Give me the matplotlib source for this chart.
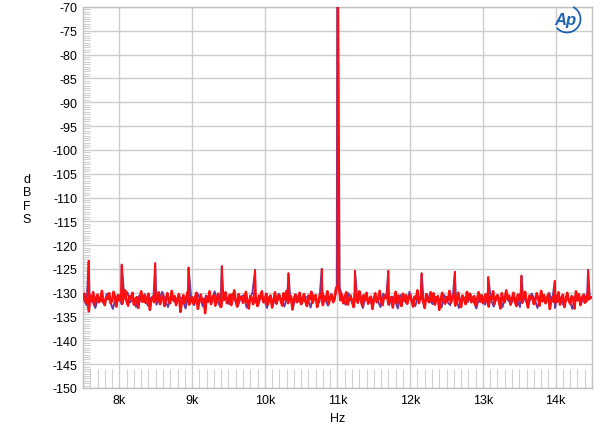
import numpy as np
import matplotlib
matplotlib.use("Agg")
import matplotlib.pyplot as plt
from matplotlib.ticker import MultipleLocator, FuncFormatter
from matplotlib.patches import Arc

plt.rcParams['font.family'] = ['Liberation Sans', 'DejaVu Sans']

# noise floor, red trace, 20 Hz bins from 7500 to 14500 Hz
red_freq = np.arange(7500, 14501, 20)
red_level = [
    -131.0, -130.2, -132.1, -131.4, -133.9, -130.6, -131.8, -129.9, -132.4, -131.1, -130.4, -132.0, -131.5, -129.6, -131.9, -132.6, -130.8, -131.3, -130.1, -132.2, -131.7, -129.8, -131.0, -132.9, -130.5,
    -131.6, -130.3, -132.3, -131.0, -129.5, -131.8, -132.7, -130.7, -131.2, -130.0, -132.5, -131.4, -130.9, -133.2, -131.1, -129.7, -131.9, -130.6, -132.1, -131.3, -130.2, -133.6, -131.5, -130.8, -132.0,
    -130.4, -131.7, -129.9, -132.4, -131.0, -130.6, -132.8, -131.3, -130.1, -131.9, -132.2, -129.6, -131.5, -130.7, -132.6, -131.2, -130.3, -134.0, -131.8, -130.5, -132.1, -131.0, -129.8, -132.5, -131.4,
    -130.9, -132.3, -131.1, -130.0, -133.4, -131.6, -130.4, -132.0, -131.3, -134.3, -130.8, -131.9, -129.7, -132.4, -131.0, -130.5, -132.7, -131.4, -130.2, -131.8, -133.0, -130.6, -131.5, -129.9, -132.2,
    -131.2, -130.4, -132.6, -131.0, -129.5, -131.7, -132.9, -130.3, -131.4, -130.8, -132.1, -131.6, -129.8, -131.9, -133.3, -130.7, -131.1, -132.4, -130.0, -131.5, -132.8, -130.6, -131.3, -129.7, -132.0,
    -131.4, -130.2, -132.5, -131.0, -130.6, -133.1, -131.7, -129.9, -132.3, -131.2, -130.5, -131.8, -132.7, -130.1, -131.5, -129.6, -132.2, -131.0, -130.7, -133.5, -131.3, -130.4, -132.0, -131.6, -130.0,
    -132.4, -131.1, -130.3, -131.9, -132.8, -130.6, -131.4, -129.8, -132.1, -131.0, -130.5, -133.0, -131.7, -130.2, -131.2, -132.6, -130.8, -131.5, -129.7, -132.3, -131.0, -130.4, -132.0, -131.3, -129.0,
    -128.6, -128.8, -131.6, -130.4, -132.2, -131.0, -129.9, -132.5, -131.3, -130.6, -131.8, -133.0, -130.2, -131.4, -132.1, -129.7, -131.0, -132.7, -130.5, -131.6, -130.0, -132.3, -131.2, -130.8, -133.4,
    -131.5, -130.1, -132.0, -131.3, -129.6, -131.9, -132.6, -130.7, -131.1, -130.3, -132.4, -131.6, -130.9, -133.1, -131.2, -129.8, -132.1, -130.6, -131.4, -132.8, -130.2, -131.7, -130.5, -132.3, -131.0,
    -130.4, -131.8, -132.9, -130.8, -131.3, -129.5, -132.2, -131.0, -130.6, -131.9, -133.2, -130.3, -131.5, -132.0, -129.9, -131.7, -130.1, -132.5, -131.2, -130.7, -133.6, -131.4, -130.0, -131.8, -132.3,
    -130.9, -131.6, -129.6, -132.1, -131.0, -130.4, -132.7, -131.3, -130.0, -131.8, -133.0, -130.6, -131.2, -132.4, -129.8, -131.5, -130.2, -132.0, -131.1, -130.7, -132.6, -131.4, -129.9, -131.9, -130.5,
    -132.2, -131.0, -130.3, -131.7, -132.9, -130.8, -131.4, -129.7, -132.3, -131.1, -130.5, -131.8, -133.3, -130.1, -131.6, -132.0, -129.5, -131.3, -130.6, -132.5, -131.2, -130.0, -131.9, -132.8, -130.4,
    -131.5, -130.2, -132.1, -131.0, -129.8, -131.7, -133.1, -130.6, -131.3, -130.9, -132.4, -131.6, -130.1, -131.2, -132.7, -129.6, -131.8, -130.5, -132.2, -131.0, -130.3, -133.4, -131.5, -130.8, -132.0,
    -130.6, -131.9, -129.9, -132.5, -131.2, -130.4, -133.0, -131.4, -130.0, -131.7, -132.3, -130.7, -131.1, -133.3, -129.7, -131.6, -130.3, -132.6, -131.0, -130.5, -132.1, -131.8, -130.2, -131.4, -130.9,
    -131.0,
]

# purple trace (mostly hidden under red), 40 Hz bins
blue_freq = np.arange(7510, 14500, 40)
blue_level = [
    -131.3, -132.6, -130.5, -131.8, -133.2, -130.9, -131.5, -132.3, -130.2, -131.7, -133.4, -131.0, -130.6, -132.4, -131.2, -129.9, -132.0, -131.4, -133.0, -130.7, -131.9, -130.3, -132.7, -131.1, -130.8,
    -132.5, -131.3, -129.8, -131.6, -133.0, -130.5, -131.8, -132.2, -130.9, -131.4, -133.3, -130.4, -131.7, -132.6, -130.1, -131.2, -132.9, -130.6, -131.5, -132.0, -129.7, -131.8, -133.0, -130.8, -131.1,
    -132.4, -130.3, -131.6, -132.8, -131.0, -130.5, -133.1, -131.4, -130.0, -131.9, -132.5, -130.7, -131.3, -133.2, -130.9, -131.7, -132.1, -130.2, -131.5, -132.9, -130.6, -131.2, -133.0, -130.4, -131.8,
    -132.3, -130.8, -131.1, -133.1, -130.5, -131.6, -132.0, -129.9, -131.4, -132.7, -130.3, -131.8, -129.2, -129.0, -131.0, -132.5, -130.1, -131.7, -132.9, -130.9, -131.3, -133.2, -130.4, -131.9, -132.2,
    -130.7, -131.5, -133.0, -130.2, -131.2, -132.6, -130.8, -131.6, -133.3, -130.5, -131.1, -132.3, -129.8, -131.8, -132.8, -130.6, -131.4, -133.1, -130.3, -131.7, -132.4, -130.9, -131.2, -133.1, -130.5,
    -131.9, -132.6, -130.1, -131.3, -133.2, -130.7, -131.6, -132.0, -130.4, -131.8, -133.3, -130.8, -131.1, -132.5, -129.9, -131.5, -132.9, -130.6, -131.2, -133.0, -130.3, -131.7, -132.2, -130.9, -131.4,
    -133.0, -130.5, -131.8, -132.4, -130.2, -131.3, -133.2, -130.7, -131.6, -132.1, -130.0, -131.9, -133.2, -130.4, -131.2, -132.7, -130.8, -131.5, -133.4, -130.6, -131.1, -132.3, -130.3, -131.7, -131.0,
]

# 11 kHz test tone (runs off the top) and spurious tones
spur_freq = [7578, 8032, 8493, 8952, 9409, 9867, 10326, 10783, 11000,
             11240, 11699, 12157, 12614, 13073, 13530, 13988, 14446]
spur_level = [-123.3, -124.1, -123.8, -124.7, -124.4, -125.2, -125.9, -125.0, -40.0,
              -125.4, -125.4, -125.9, -125.6, -126.7, -126.4, -127.5, -125.2]


def merge(f, v):
    f = np.concatenate([f, spur_freq])
    v = np.concatenate([v, spur_level])
    order = np.argsort(f, kind='stable')
    return f[order], v[order]


fig = plt.figure(figsize=(6.0, 4.31), dpi=100)
ax = fig.add_axes([83 / 600, 1 - 389 / 431, 509 / 600, 381 / 431])

bf, bv = merge(blue_freq, blue_level)
rf, rv = merge(red_freq, red_level)
ax.plot(bf, bv, color='#6a3aa0', lw=1.4, zorder=3)
# thin line carries the spikes, a thicker pass fills out the noise band
ax.plot(rf, rv, color='#ff0f0f', lw=1.2, zorder=4)
ax.plot(red_freq, red_level, color='#ff0f0f', lw=1.8, zorder=4)

ax.set_xlim(7500, 14500)
ax.set_ylim(-150, -70)
ax.xaxis.set_major_locator(MultipleLocator(1000))
ax.xaxis.set_minor_locator(MultipleLocator(100))
ax.yaxis.set_major_locator(MultipleLocator(5))
ax.yaxis.set_minor_locator(MultipleLocator(0.5))
ax.xaxis.set_major_formatter(FuncFormatter(lambda v, p: '%dk' % int(round(v / 1000))))
ax.yaxis.set_major_formatter(FuncFormatter(lambda v, p: '%d' % int(round(v))))

ax.grid(True, which='major', color='#cccccc', lw=1.0, zorder=1)
ax.tick_params(which='major', length=0, labelsize=9, colors='black', pad=4)
ax.tick_params(axis='x', which='minor', direction='in', length=14, color='#d0d0d0', width=0.8)
ax.tick_params(axis='y', which='minor', direction='in', length=5, color='#d0d0d0', width=0.8)
for s in ax.spines.values():
    s.set_color('#c0c0c0')
    s.set_linewidth(1.0)

ax.set_xlabel('Hz', fontsize=9, labelpad=5)
fig.text(27 / 600, 1 - 200 / 431, 'd\nB\nF\nS', fontsize=9, ha='center', va='center',
         linespacing=1.15)

# Ap logo
fig.text(565 / 600, 1 - 20 / 431, 'Ap', fontsize=12, style='italic', color='#1f64b0',
         ha='center', va='center', fontweight='bold')
logo = Arc((567 / 600, 1 - 20 / 431), 0.045, 0.045 * 600 / 431, theta1=-130, theta2=70,
           transform=fig.transFigure, color='#1f64b0', lw=1.3)
fig.add_artist(logo)

fig.savefig('out.png', dpi=100)
